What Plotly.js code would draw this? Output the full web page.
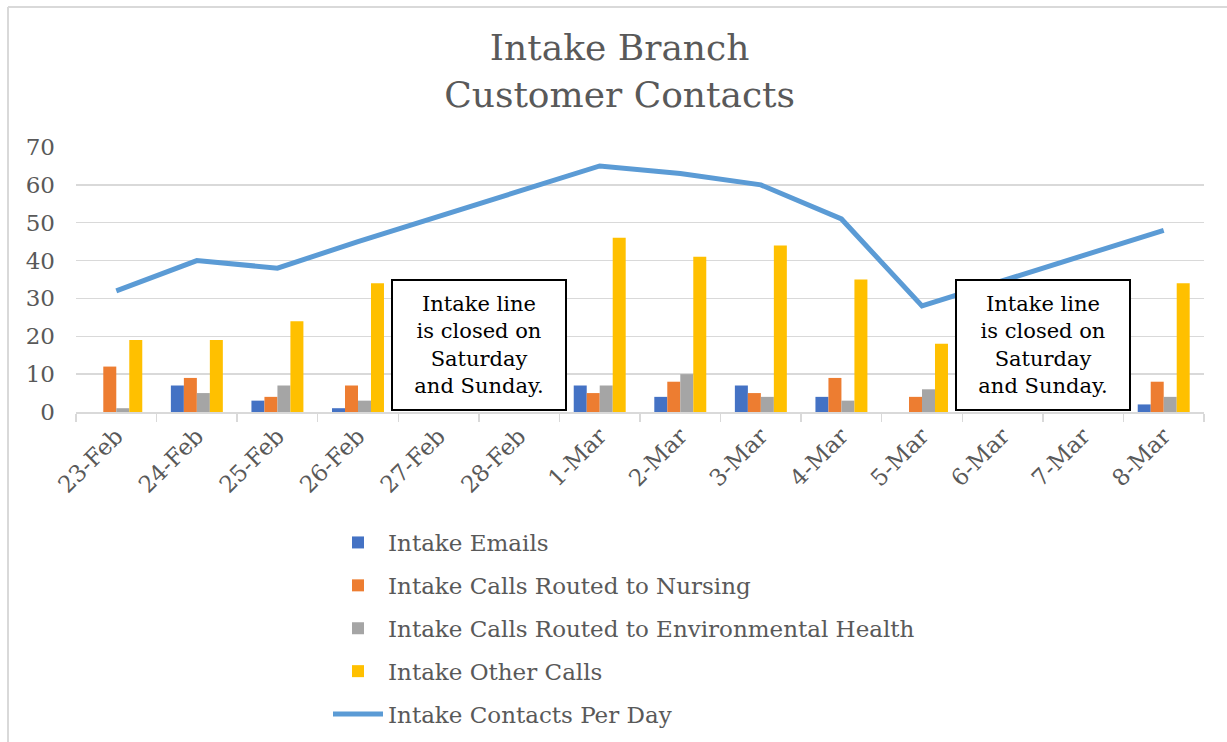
<!DOCTYPE html>
<html>
<head>
<meta charset="utf-8">
<script src="https://cdn.plot.ly/plotly-3.0.1.min.js"></script>
<style>html,body{margin:0;padding:0;background:#fff;}#chart{width:1227px;height:742px;}</style>
</head>
<body>
<div id="chart"></div>
<script>
const dates = ['23-Feb','24-Feb','25-Feb','26-Feb','27-Feb','28-Feb','1-Mar','2-Mar','3-Mar','4-Mar','5-Mar','6-Mar','7-Mar','8-Mar'];
const emails = [0, 7, 3, 1, null, null, 7, 4, 7, 4, 0, null, null, 2];
const nursing = [12, 9, 4, 7, null, null, 5, 8, 5, 9, 4, null, null, 8];
const envHealth = [1, 5, 7, 3, null, null, 7, 10, 4, 3, 6, null, null, 4];
const otherCalls = [19, 19, 24, 34, null, null, 46, 41, 44, 35, 18, null, null, 34];
const contactsPerDay = [32, 40, 38, 45, null, null, 65, 63, 60, 51, 28, null, null, 48];
const yTicks = [0, 10, 20, 30, 40, 50, 60, 70];
const noteText = 'Intake line<br>is closed on<br>Saturday<br>and Sunday.';

const FONT = 'DejaVu Serif, Liberation Serif, serif';
const GREY = '#595959';

const traces = [
  {type:'bar', name:'Intake Emails', x:dates, y:emails, marker:{color:'#4472C4'}, legendgroup:'a'},
  {type:'bar', name:'Intake Calls Routed to Nursing', x:dates, y:nursing, marker:{color:'#ED7D31'}, legendgroup:'b'},
  {type:'bar', name:'Intake Calls Routed to Environmental Health', x:dates, y:envHealth, marker:{color:'#A5A5A5'}, legendgroup:'c'},
  {type:'bar', name:'Intake Other Calls', x:dates, y:otherCalls, marker:{color:'#FFC000'}, legendgroup:'d'},
  {type:'scatter', mode:'lines', name:'Intake Contacts Per Day', x:dates, y:contactsPerDay, connectgaps:true,
   line:{color:'#5B9BD5', width:5}, legendgroup:'e'}
];

// pixel helpers for decorative frame
const L = 76, R = 23, T = 147, B = 330, W = 1227, H = 742;
const pw = W - L - R, ph = H - T - B;
const px = v => (v - L) / pw;
const py = v => (H - B - v) / ph;

const layout = {
  width: W, height: H,
  margin: {l:L, r:R, t:T, b:B, pad:0, autoexpand:false},
  paper_bgcolor:'#fff', plot_bgcolor:'#fff',
  font:{family:FONT, color:GREY, size:23},
  title:{text:'Intake Branch<br>Customer Contacts', font:{family:FONT, size:36, color:GREY},
         x:0.505, xref:'container', y:1 - 60/H, yref:'container', yanchor:'middle'},
  barmode:'group', bargap:0.355, bargroupgap:0,
  showlegend:true,
  legend:{orientation:'v', x:328/W, xref:'container', xanchor:'left', y:1 - 521/H, yref:'container', yanchor:'top',
          font:{family:FONT, size:23, color:GREY}, tracegroupgap:10, traceorder:'grouped',
          itemwidth:50, bgcolor:'rgba(0,0,0,0)'},
  xaxis:{type:'category', tickangle:-45, tickfont:{family:FONT, size:23, color:GREY},
         showline:true, linecolor:'#D9D9D9', linewidth:1.5, ticks:'outside', tickson:'boundaries',
         ticklen:8, tickcolor:'#D9D9D9', tickwidth:1.5, showgrid:false, fixedrange:true, automargin:false},
  yaxis:{range:[0,70], tickvals:yTicks, tickfont:{family:FONT, size:23, color:GREY},
         showgrid:true, gridcolor:'#D9D9D9', gridwidth:1.5, zeroline:false, showline:false,
         ticks:'', ticklabelstandoff:20, fixedrange:true, automargin:false},
  annotations:[
    {x:4.5, y:17.8, xref:'x', yref:'y', text:noteText, showarrow:false, align:'center',
     font:{family:FONT, size:21, color:'#000'}, bgcolor:'#fff', bordercolor:'#000', borderwidth:2,
     borderpad:11, width:150},
    {x:11.5, y:17.8, xref:'x', yref:'y', text:noteText, showarrow:false, align:'center',
     font:{family:FONT, size:21, color:'#000'}, bgcolor:'#fff', bordercolor:'#000', borderwidth:2,
     borderpad:11, width:150}
  ],
  shapes:[
    {type:'line', xref:'paper', yref:'paper', x0:px(8), x1:px(1227), y0:py(7), y1:py(7), line:{color:'#D9D9D9', width:2}},
    {type:'line', xref:'paper', yref:'paper', x0:px(8), x1:px(8), y0:py(7), y1:py(742), line:{color:'#D9D9D9', width:2}}
  ]
};

Plotly.newPlot('chart', traces, layout, {displayModeBar:false, staticPlot:true});
</script>
</body>
</html>
